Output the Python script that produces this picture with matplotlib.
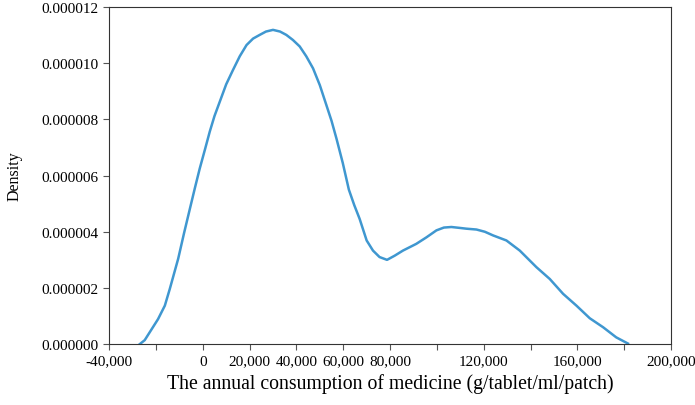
import matplotlib
matplotlib.use("Agg")
import matplotlib.pyplot as plt

plt.rcParams['font.family'] = ['Liberation Serif', 'DejaVu Serif']

# density curve (x in thousands, y in 1e-6)
consumption_k = [-26.9, -24.8, -19.1, -16.2, -14.1, -10.5, -8, -5.5, -3.3, -1.3, 1, 3, 5, 7.3,
                 10, 12.9, 15.8, 18.7, 21.5, 24.3, 27, 30, 33, 35.7, 38.5, 41.4, 44.2,
                 47.1, 50, 52.8, 55, 57.1, 59.8, 62.4, 64.7, 67, 70, 72.7, 75.5, 78.7,
                 82, 85.5, 91.2, 95.5, 99.8, 103, 106.2, 109.5, 112.6, 116.9, 120.5, 124,
                 129.7, 135.4, 142.5, 148.2, 153.9, 159.6, 165.3, 171, 176.6, 181.6]
density_e6 = [0, 0.14, 0.89, 1.37, 1.96, 3.04, 3.95, 4.82, 5.58, 6.25, 6.95, 7.57, 8.12, 8.64,
              9.25, 9.76, 10.25, 10.65, 10.88, 11.01, 11.13, 11.19, 11.13, 11.01, 10.83, 10.6, 10.25,
              9.82, 9.22, 8.51, 7.95, 7.32, 6.45, 5.5, 4.95, 4.46, 3.69, 3.33, 3.1, 3.0,
              3.15, 3.33, 3.57, 3.8, 4.05, 4.15, 4.17, 4.14, 4.11, 4.08, 4.0, 3.87,
              3.69, 3.33, 2.74, 2.32, 1.79, 1.37, 0.92, 0.6, 0.24, 0.02]

xticks = list(range(-40000, 200001, 20000))
shown = {-40000, 0, 20000, 40000, 60000, 80000, 120000, 160000, 200000}
xlabels = ["{:,}".format(t) if t in shown else "" for t in xticks]
yticks = [0, 2e-6, 4e-6, 6e-6, 8e-6, 10e-6, 12e-6]

x = [v * 1000 for v in consumption_k]
y = [v * 1e-6 for v in density_e6]

fig = plt.figure(figsize=(6.95, 4.06), dpi=100)
ax = fig.add_axes([0.157, 0.150, 0.8085, 0.830])
ax.plot(x, y, color='#3f97d0', lw=1.8, solid_joinstyle='round')

ax.set_xlim(-40000, 200000)
ax.set_ylim(0, 12e-6)
ax.set_xticks(xticks)
ax.set_xticklabels(xlabels)
ax.set_yticks(yticks)
ax.set_yticklabels(["{:.6f}".format(t) for t in yticks])
ax.tick_params(labelsize=11, length=4, width=0.8, color='#555555', direction='out')
for s in ax.spines.values():
    s.set_color('#333333')
    s.set_linewidth(0.8)

ax.set_xlabel("The annual consumption of medicine (g/tablet/ml/patch)", fontsize=14.2, labelpad=4)
ax.set_ylabel("Density", fontsize=11.5, labelpad=14)

fig.savefig("out.png", dpi=100)
